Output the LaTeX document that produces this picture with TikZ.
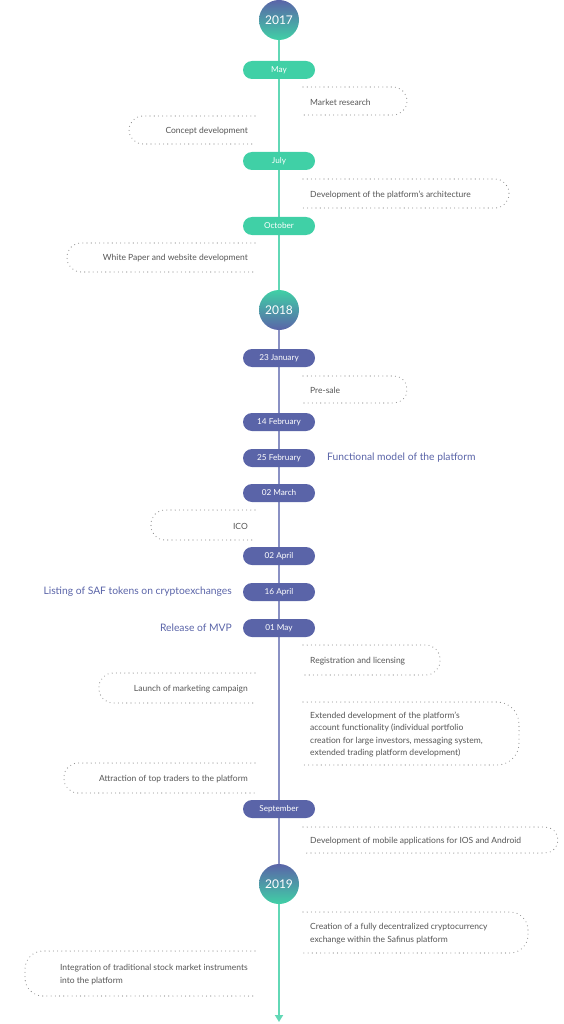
\documentclass[tikz,border=0pt]{standalone}
\usepackage{fontspec}
\setmainfont{Lato}
\usetikzlibrary{arrows.meta,backgrounds}
\definecolor{tealc}{HTML}{40D0A6}
\definecolor{tealline}{HTML}{62D8B6}
\definecolor{purc}{HTML}{5A64A8}
\definecolor{purline}{HTML}{8A91C4}
\definecolor{txt}{HTML}{555555}
\definecolor{dotc}{HTML}{8A8A8A}
\tikzset{
  pill/.style={rounded corners=9pt, minimum width=72pt, minimum height=18pt, inner sep=0pt, text=white, font=\fontsize{8.2}{9}\selectfont},
  tpill/.style={pill, fill=tealc},
  ppill/.style={pill, fill=purc},
  year/.style={circle, minimum size=40pt, inner sep=0pt, text=white, font=\fontsize{12}{14}\selectfont},
  yeardown/.style={year, top color=purc, bottom color=tealc},
  yearup/.style={year, top color=tealc, bottom color=purc},
  dotbox/.style={draw=dotc, line width=1.1pt, dash pattern=on 0pt off 4.2pt, line cap=round},
  btext/.style={text=txt, font=\fontsize{8.5}{12.3}\selectfont, inner sep=0pt, align=left},
  plabel/.style={text=purc, font=\fontsize{10.3}{12}\selectfont, inner sep=0pt},
  tline/.style={draw=tealline, line width=1.8pt},
  pline/.style={draw=purline, line width=1.8pt},
}
% right box: name, right x, top y, bottom y, corner radius, text
\newcommand\rbox[6]{%
  \draw[dotbox, rounded corners=#5pt] (303,#3) -- (#2,#3) -- (#2,#4) -- (303,#4);
  \node[btext, anchor=west] (#1) at (310,{(#3+#4)/2+1}) {#6};
}
% left box: name, left x, top y, bottom y, corner radius, text
\newcommand\lbox[6]{%
  \draw[dotbox, rounded corners=#5pt] (255,#3) -- (#2,#3) -- (#2,#4) -- (255,#4);
  \node[btext, anchor=east] (#1) at (248,{(#3+#4)/2+1}) {#6};
}
\begin{document}
\begin{tikzpicture}[x=1pt,y=-1pt]
\useasboundingbox (0,0) rectangle (563,1024);
% years
\node[yeardown] (y2017) at (279,20) {2017};
\node[yearup] (y2018) at (279,310) {2018};
\node[yeardown] (y2019) at (279,884) {2019};
\coordinate (tip) at (279,1022);
% pills
\node[tpill] (may) at (279,70) {May};
\node[tpill] (july) at (279,161) {July};
\node[tpill] (oct) at (279,226) {October};
\node[ppill] (jan23) at (279,358) {23 January};
\node[ppill] (feb14) at (279,422) {14 February};
\node[ppill] (feb25) at (279,458) {25 February};
\node[ppill] (mar02) at (279,493) {02 March};
\node[ppill] (apr02) at (279,556) {02 April};
\node[ppill] (apr16) at (279,592) {16 April};
\node[ppill] (may01) at (279,628) {01 May};
\node[ppill] (sep) at (279,809) {September};
% purple labels
\node[plabel, anchor=west] (func) at (327,458) {Functional model of the platform};
\node[plabel, anchor=east] (listing) at (232,592) {Listing of SAF tokens on cryptoexchanges};
\node[plabel, anchor=east] (mvp) at (232,628) {Release of MVP};
% dotted boxes
\rbox{market}{407}{87}{115}{14}{Market research}
\lbox{concept}{129}{116}{144}{14}{Concept development}
\rbox{arch}{509}{179}{208}{14}{Development of the platform's architecture}
\lbox{white}{67}{243}{272}{14}{White Paper and website development}
\rbox{presale}{407}{376}{403}{13}{Pre-sale}
\lbox{ico}{151}{510}{540}{14}{ICO}
\rbox{reg}{440}{645}{675}{14}{Registration and licensing}
\lbox{launch}{99}{673}{703}{14}{Launch of marketing campaign}
\rbox{ext}{519}{702}{765}{22}{Extended development of the platform's\\account functionality (individual portfolio\\creation for large investors, messaging system,\\extended trading platform development)}
\lbox{attr}{64}{763}{793}{14}{Attraction of top traders to the platform}
\rbox{mobile}{558}{827}{853}{13}{Development of mobile applications for IOS and Android}
\rbox{dex}{528}{912}{953}{18}{Creation of a fully decentralized cryptocurrency\\exchange within the Safinus platform}
\lbox{integ}{25}{951}{996}{18}{Integration of traditional stock market instruments\\into the platform}
% timeline
\begin{scope}[on background layer]
\draw[tline] (y2017) -- (y2018);
\draw[pline] (y2018) -- (y2019);
\draw[tline, -{Triangle[width=8pt,length=7pt]}] (y2019) -- (tip);
\end{scope}
\end{tikzpicture}
\end{document}
